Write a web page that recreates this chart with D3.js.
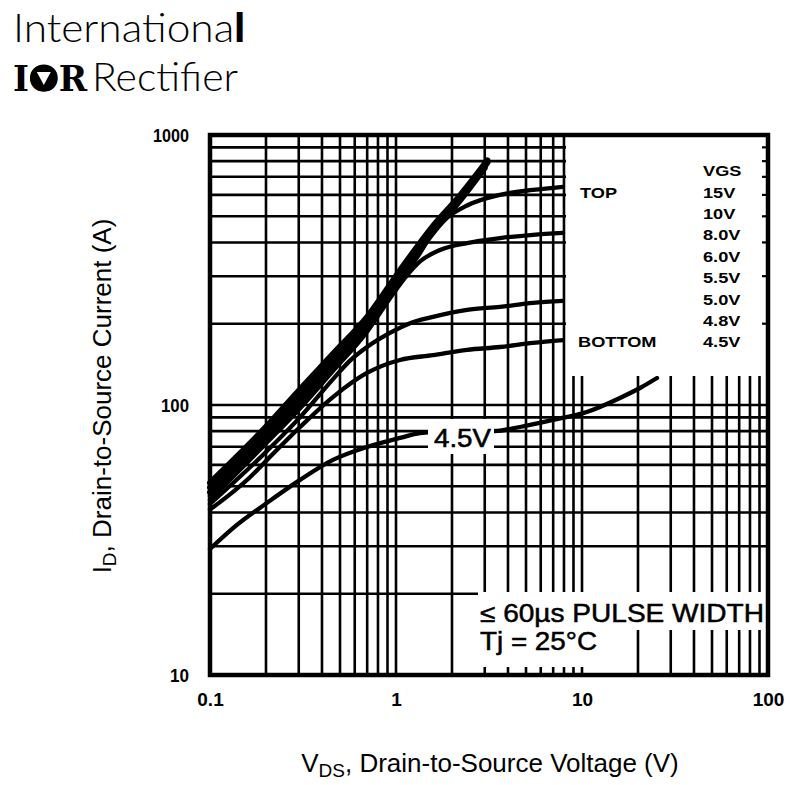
<!DOCTYPE html>
<html>
<head>
<meta charset="utf-8">
<script src="https://cdn.jsdelivr.net/npm/d3@7/dist/d3.min.js"></script>
<style>
  html, body { margin: 0; padding: 0; background: #fff; }
  svg { display: block; }
</style>
</head>
<body>
<svg id="chart" width="794" height="785"></svg>
<script>
// ---------------- DATA ----------------
const xTickValues = [0.1, 1, 10, 100];
const xTickLabels = ["0.1", "1", "10", "100"];
const yTickValues = [10, 100, 1000];
const yTickLabels = ["10", "100", "1000"];

const legendTitle = "VGS";
const vgsLabels = ["15V", "10V", "8.0V", "6.0V", "5.5V", "5.0V", "4.8V", "4.5V"];

// [VDS (V), ID (A)]
const vgs15 = [[0.1,51.5],[0.2,83],[0.3,113],[0.46,155],[0.7,212],[1.05,315],[1.58,460],[2.2,595],[3.1,805]];
const vgs10 = [[0.1,49.5],[0.2,80],[0.3,108],[0.46,149],[0.7,205],[1.05,305],[1.58,448],[2.2,583],[3.1,790]];
const vgs8  = [[0.1,47.5],[0.2,77],[0.3,104],[0.46,144],[0.7,199],[1.05,296],[1.58,436],[2.2,570],[3.0,755]];
const vgs6  = [[0.1,46],[0.2,74],[0.3,100],[0.46,139],[0.7,193],[1.05,285],[1.3,352],[1.58,435],[1.88,493],[2.41,548],[3.62,600],[5.45,626],[7.9,643]];
const vgs55 = [[0.1,44.5],[0.2,72],[0.3,96],[0.46,134],[0.7,187],[0.964,258],[1.146,302],[1.346,340],[1.724,375],[2.41,398],[3.62,415],[5.45,427],[7.9,434]];
const vgs5  = [[0.1,43],[0.2,67],[0.3,89],[0.46,125],[0.566,146],[0.698,164],[0.928,185],[1.19,201],[1.58,212],[2.41,225],[3.62,231],[5.45,239],[7.9,243]];
const vgs48 = [[0.1,41],[0.164,54],[0.2025,62.6],[0.305,82.9],[0.458,107],[0.698,131.4],[1.05,146.8],[1.58,153],[2.41,160],[3.62,164],[5.45,169.8],[7.9,174]];
const vgs45 = [[0.1,29.3],[0.133,35],[0.2025,43.4],[0.305,52.8],[0.458,62.6],[0.698,69.9],[1.05,75.5],[1.346,78.7],[2.0,80],[3.41,80.1],[4.64,82.9],[6.98,88],[10.6,94.2],[16,106.2],[20.5,115.6],[25.3,125.9]];

const bundleSeries = [vgs15, vgs10, vgs8];
const thinSeries = [vgs6, vgs55, vgs5, vgs48, vgs45];

// ---------------- LAYOUT ----------------
const svg = d3.select("#chart");
const L = 210, R = 768, T = 135, B = 675;
const x = d3.scaleLog().domain([0.1, 100]).range([L, R]);
const y = d3.scaleLog().domain([10, 1000]).range([B, T]);

const legendBox = {x0: 566, x1: 766, y0: 137, y1: 376};
const ann1 = {x0: 478, x1: 766, y0: 592, y1: 630};
const ann2 = {x0: 478, x1: 618, y0: 630, y1: 667};
const lblBox = {x0: 428, x1: 494, y0: 419, y1: 454};

const gGrid = svg.append("g");
x.ticks().forEach(v => {
  gGrid.append("line")
    .attr("x1", x(v)).attr("x2", x(v))
    .attr("y1", T).attr("y2", B)
    .attr("stroke", "#000").attr("stroke-width", 2.6);
});
y.ticks().forEach(v => {
  gGrid.append("line")
    .attr("x1", L).attr("x2", R)
    .attr("y1", y(v)).attr("y2", y(v))
    .attr("stroke", "#000").attr("stroke-width", 2.6);
});

// curves
const line = d3.line().x(d => x(d[0])).y(d => y(d[1])).curve(d3.curveMonotoneX);
const gCurves = svg.append("g").attr("fill", "none").attr("stroke", "#000")
  .attr("stroke-linecap", "round").attr("stroke-linejoin", "round");
bundleSeries.forEach(s => gCurves.append("path").attr("d", line(s)).attr("stroke-width", 6));
thinSeries.forEach(s => gCurves.append("path").attr("d", line(s)).attr("stroke-width", 4.3));

// white boxes
[legendBox, ann1, ann2, lblBox].forEach(b => svg.append("rect")
  .attr("x", b.x0).attr("y", b.y0).attr("width", b.x1 - b.x0).attr("height", b.y1 - b.y0)
  .attr("fill", "#fff"));

// frame
svg.append("rect").attr("x", L).attr("y", T).attr("width", R - L).attr("height", B - T)
  .attr("fill", "none").attr("stroke", "#000").attr("stroke-width", 4.5);

// small ticks on right border inside the legend box
y.ticks().filter(v => y(v) > legendBox.y0 + 4 && y(v) < legendBox.y1).forEach(v => {
  svg.append("line").attr("x1", R - 6).attr("x2", R).attr("y1", y(v)).attr("y2", y(v))
    .attr("stroke", "#000").attr("stroke-width", 2.2);
});

// axes tick labels
const fontSans = "Liberation Sans, Arial, Helvetica, sans-serif";
const xAxis = d3.axisBottom(x).tickValues(xTickValues)
  .tickFormat((d, i) => xTickLabels[i]).tickSize(0).tickPadding(0);
const gx = svg.append("g").attr("transform", `translate(0, ${B + 31})`).call(xAxis);
gx.select(".domain").remove();
gx.selectAll("text").attr("font-family", fontSans).attr("font-size", 19)
  .attr("font-weight", "bold").attr("fill", "#000").attr("dy", "0");

const yAxis = d3.axisLeft(y).tickValues(yTickValues)
  .tickFormat((d, i) => yTickLabels[i]).tickSize(0).tickPadding(0);
const gy = svg.append("g").attr("transform", `translate(${L - 21}, 0)`).call(yAxis);
gy.select(".domain").remove();
gy.selectAll("text").attr("font-family", fontSans).attr("font-size", 19)
  .attr("font-weight", "bold").attr("fill", "#000")
  .attr("textLength", (d, i) => [19, 28, 36][i]).attr("lengthAdjust", "spacingAndGlyphs");

// axis titles
const xt = svg.append("text").attr("x", 490).attr("y", 772).attr("text-anchor", "middle")
  .attr("font-family", fontSans).attr("font-size", 26).attr("fill", "#000");
xt.append("tspan").text("V");
xt.append("tspan").attr("font-size", 19).attr("dy", 5).text("DS");
xt.append("tspan").attr("dy", -5).text(", Drain-to-Source Voltage (V)");

const yt = svg.append("text").attr("transform", "translate(111, 396) rotate(-90)")
  .attr("text-anchor", "middle")
  .attr("font-family", fontSans).attr("font-size", 26).attr("fill", "#000");
yt.append("tspan").text("I");
yt.append("tspan").attr("font-size", 19).attr("dy", 5).text("D");
yt.append("tspan").attr("dy", -5).text(", Drain-to-Source Current (A)");

// legend
const legRow0 = 171, legStep = 21.4;
function legendText(txt, lx, ly) {
  svg.append("text").attr("transform", `translate(${lx}, ${ly}) scale(1.3, 1)`)
    .attr("dominant-baseline", "central")
    .attr("font-family", fontSans).attr("font-size", 14).attr("font-weight", "bold")
    .attr("fill", "#000").text(txt);
}
legendText(legendTitle, 703, legRow0);
vgsLabels.forEach((t, i) => legendText(t, 703, legRow0 + legStep * (i + 1)));
legendText("TOP", 580, legRow0 + legStep);
legendText("BOTTOM", 578, legRow0 + legStep * vgsLabels.length);

// in-plot label for 4.5V curve
svg.append("text").attr("x", 434).attr("y", 447)
  .attr("font-family", fontSans).attr("font-size", 26).attr("fill", "#000")
  .attr("stroke", "#000").attr("stroke-width", 0.6)
  .attr("textLength", 57).attr("lengthAdjust", "spacingAndGlyphs").text("4.5V");

// annotation
svg.append("text").attr("x", 480).attr("y", 622)
  .attr("font-family", fontSans).attr("font-size", 25).attr("fill", "#000")
  .attr("stroke", "#000").attr("stroke-width", 0.5)
  .attr("textLength", 284).attr("lengthAdjust", "spacingAndGlyphs")
  .text("≤ 60µs PULSE WIDTH");
svg.append("text").attr("x", 480).attr("y", 650)
  .attr("font-family", fontSans).attr("font-size", 25).attr("fill", "#000")
  .attr("stroke", "#000").attr("stroke-width", 0.5)
  .attr("textLength", 117).attr("lengthAdjust", "spacingAndGlyphs")
  .text("Tj = 25°C");

// logo
const logo1 = svg.append("text").attr("x", 13).attr("y", 42)
  .attr("font-family", "Lato, 'Open Sans', sans-serif").attr("font-size", 40)
  .attr("font-weight", 300).attr("fill", "#000")
  .attr("textLength", 232).attr("lengthAdjust", "spacingAndGlyphs");
logo1.append("tspan").text("Internationa");
logo1.append("tspan").attr("font-weight", 900).text("l");

const logo2 = svg.append("text").attr("x", 13).attr("y", 91)
  .attr("font-family", "'DejaVu Serif', serif").attr("font-size", 36)
  .attr("font-weight", "bold").attr("fill", "#000")
  .attr("textLength", 74).attr("lengthAdjust", "spacingAndGlyphs").text("IOR");
// emblem inside the "O"
try {
  const ext = logo2.node().getExtentOfChar(1);
  const cx = ext.x + ext.width / 2, cy = 91 - 13;
  svg.append("ellipse").attr("cx", cx).attr("cy", cy).attr("rx", ext.width / 2 - 1).attr("ry", 13.5).attr("fill", "#000");
  svg.append("path")
    .attr("d", `M${cx - 7},${cy - 6} L${cx + 7},${cy - 6} L${cx},${cy + 7} Z`)
    .attr("fill", "#fff");
} catch (e) {}
svg.append("text").attr("x", 92).attr("y", 91)
  .attr("font-family", "Lato, 'Open Sans', sans-serif").attr("font-size", 40)
  .attr("font-weight", 300).attr("fill", "#000")
  .attr("textLength", 146).attr("lengthAdjust", "spacingAndGlyphs").text("Rectifier");
</script>
</body>
</html>
